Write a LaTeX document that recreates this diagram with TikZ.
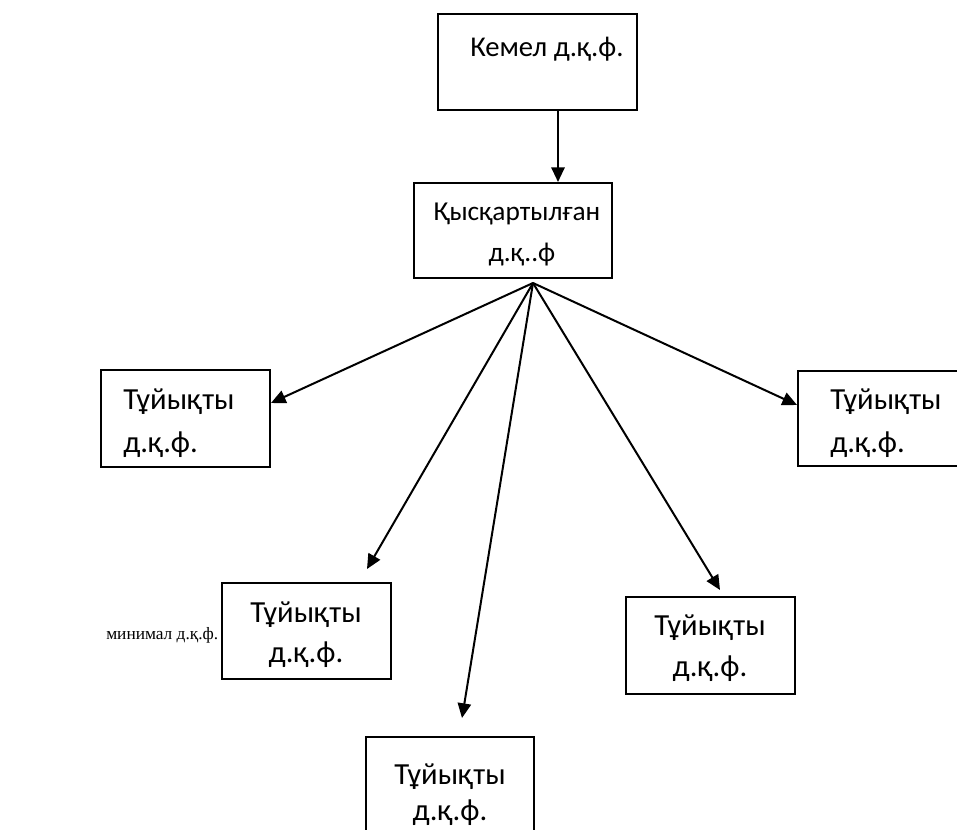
\documentclass[tikz,border=0pt]{standalone}
\usepackage{fontspec}
\setmainfont{Carlito}
\newfontfamily\serifkz{Liberation Serif}
\usetikzlibrary{arrows.meta}
\begin{document}
\begin{tikzpicture}[x=0.75pt,y=-0.75pt,
  box/.style={draw, line width=1.5pt, inner sep=0pt},
  txt/.style={inner sep=0pt, font=\fontsize{23}{28}\selectfont},
  txtb/.style={inner sep=0pt, font=\fontsize{21.5}{26}\selectfont},
  txtc/.style={inner sep=0pt, font=\fontsize{20.5}{24}\selectfont},
  lbl/.style={inner sep=0pt, font=\serifkz\fontsize{13}{15}\selectfont},
  arr/.style={line width=1.5pt, -{Triangle[length=11pt,width=10pt]}}]
\useasboundingbox (0,0) rectangle (957,830);
% boxes
\node[box, minimum width={199*0.75pt}, minimum height={96*0.75pt}] (b1) at (537.5,62) {};
\node[box, minimum width={198*0.75pt}, minimum height={95*0.75pt}] (b2) at (513,230.5) {};
\node[box, minimum width={169*0.75pt}, minimum height={97*0.75pt}] (b3) at (185.5,418.5) {};
\node[box, minimum width={170*0.75pt}, minimum height={95*0.75pt}] (b4) at (883,418.5) {};
\node[box, minimum width={169*0.75pt}, minimum height={96*0.75pt}] (b5) at (306.5,631) {};
\node[box, minimum width={169*0.75pt}, minimum height={97*0.75pt}] (b6) at (710.5,645) {};
\node[box, minimum width={168*0.75pt}, minimum height={96*0.75pt}] (b7) at (450,785) {};
% texts
\node[txtb, anchor=base west] (t1) at (470,57) {Кемел д.қ.ф.};
\node[txtc, anchor=base] (t2a) at (517,221) {Қысқартылған};
\node[txtc, anchor=base] (t2b) at (522,262) {д.қ..ф};
\node[txt, anchor=base west] (t3a) at (123,410) {Тұйықты};
\node[txt, anchor=base west] (t3b) at (123,453) {д.қ.ф.};
\node[txt, anchor=base west] (t4a) at (830,410) {Тұйықты};
\node[txt, anchor=base west] (t4b) at (830,453) {д.қ.ф.};
\node[txt, anchor=base] (t5a) at (306,622) {Тұйықты};
\node[txt, anchor=base] (t5b) at (306,662) {д.қ.ф.};
\node[txt, anchor=base] (t6a) at (710,635) {Тұйықты};
\node[txt, anchor=base] (t6b) at (710,676) {д.қ.ф.};
\node[txt, anchor=base] (t7a) at (450,784) {Тұйықты};
\node[txt, anchor=base] (t7b) at (450,820) {д.қ.ф.};
\node[lbl, anchor=base west] (m) at (106,639) {минимал д.қ.ф.};
% connectors
\draw[arr] ([xshift={20.5*0.75pt}]b1.south) -- ([xshift={20.5*0.75pt}]b1.south |- b2.north);
\coordinate (hub) at (533,283);
\coordinate (p3) at (271,403);
\coordinate (p4) at (797,405);
\coordinate (p5) at (367,569);
\coordinate (p6) at (720,590);
\coordinate (p7) at (462,718);
\draw[arr] (hub) -- (p3);
\draw[arr] (hub) -- (p4);
\draw[arr] (hub) -- (p5);
\draw[arr] (hub) -- (p6);
\draw[arr] (hub) -- (p7);
\end{tikzpicture}
\end{document}
